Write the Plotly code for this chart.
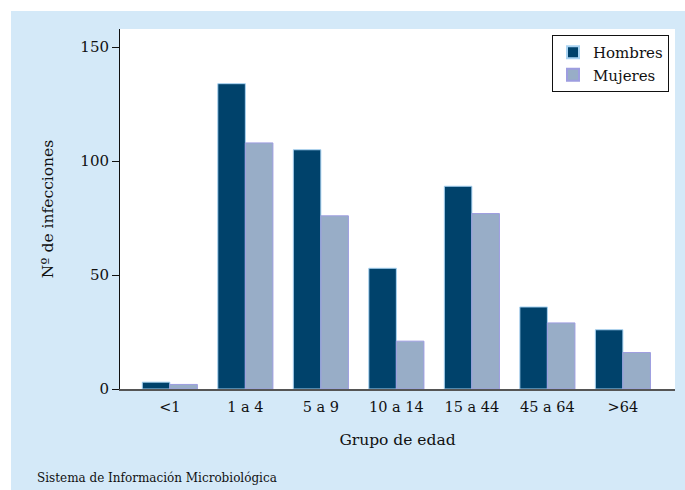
import plotly.graph_objects as go

categorias = ["<1", "1 a 4", "5 a 9", "10 a 14", "15 a 44", "45 a 64", ">64"]
hombres = [3, 134, 105, 53, 89, 36, 26]
mujeres = [2, 108, 76, 21, 77, 29, 16]
y_ticks = [0, 50, 100, 150]

FONT = "DejaVu Serif"
PANEL = "#d4e9f8"

fig = go.Figure()
fig.add_trace(go.Bar(
    x=categorias, y=hombres, name="Hombres",
    marker=dict(color="#00426b", line=dict(color="#a9d3f2", width=1)),
))
fig.add_trace(go.Bar(
    x=categorias, y=mujeres, name="Mujeres",
    marker=dict(color="#98adc7", line=dict(color="#9d9de0", width=1)),
))

W, H = 685, 490
L, R, T, B = 120, 10, 29, 101
pw, ph = W - L - R, H - T - B

def px2x(px):
    return (px - L) / pw

def py2y(py):
    return (H - B - py) / ph

fig.update_layout(
    width=W, height=H,
    margin=dict(l=L, r=R, t=T, b=B, pad=0),
    paper_bgcolor="white",
    plot_bgcolor="white",
    font=dict(family=FONT, size=14, color="#111"),
    barmode="group",
    bargap=0.27,
    bargroupgap=0,
    showlegend=True,
    legend=dict(
        x=px2x(669), xanchor="right", y=py2y(35), yanchor="top",
        bgcolor="white", bordercolor="#111", borderwidth=1,
        font=dict(family=FONT, size=15, color="#111"),
        tracegroupgap=2, itemsizing="constant",
    ),
    shapes=[
        dict(type="rect", xref="paper", yref="paper", layer="below",
             x0=px2x(11), x1=px2x(690), y0=py2y(495), y1=py2y(11),
             fillcolor=PANEL, line=dict(width=0)),
        dict(type="rect", xref="paper", yref="paper", layer="below",
             x0=0, x1=1, y0=0, y1=1,
             fillcolor="white", line=dict(width=0)),
    ],
    annotations=[
        dict(text="Sistema de Información Microbiológica", xref="paper", yref="paper",
             x=px2x(35), y=py2y(478), xanchor="left", yanchor="middle",
             showarrow=False, font=dict(family=FONT, size=12, color="#111")),
    ],
)

fig.update_xaxes(
    range=[-0.66, 6.69],
    showline=True, linecolor="#555", linewidth=2,
    ticks="", showgrid=False, zeroline=False,
    ticklabelstandoff=4,
    tickfont=dict(family=FONT, size=14.5, color="#111"),
    title=dict(text="Grupo de edad", standoff=20,
               font=dict(family=FONT, size=15.5, color="#111")),
)
fig.update_yaxes(
    range=[0, 158],
    tickvals=y_ticks, ticktext=[str(v) for v in y_ticks],
    showline=True, linecolor="#111", linewidth=1,
    ticks="outside", ticklen=7, tickcolor="#111", tickwidth=1,
    showgrid=False, zeroline=False,
    tickfont=dict(family=FONT, size=15, color="#111"),
    title=dict(text="Nº de infecciones", standoff=22,
               font=dict(family=FONT, size=15.5, color="#111")),
)

fig.write_html(
    "out.html",
    config={"displayModeBar": False},
    post_script="document.body.style.margin='0';document.body.style.overflow='hidden';",
)
